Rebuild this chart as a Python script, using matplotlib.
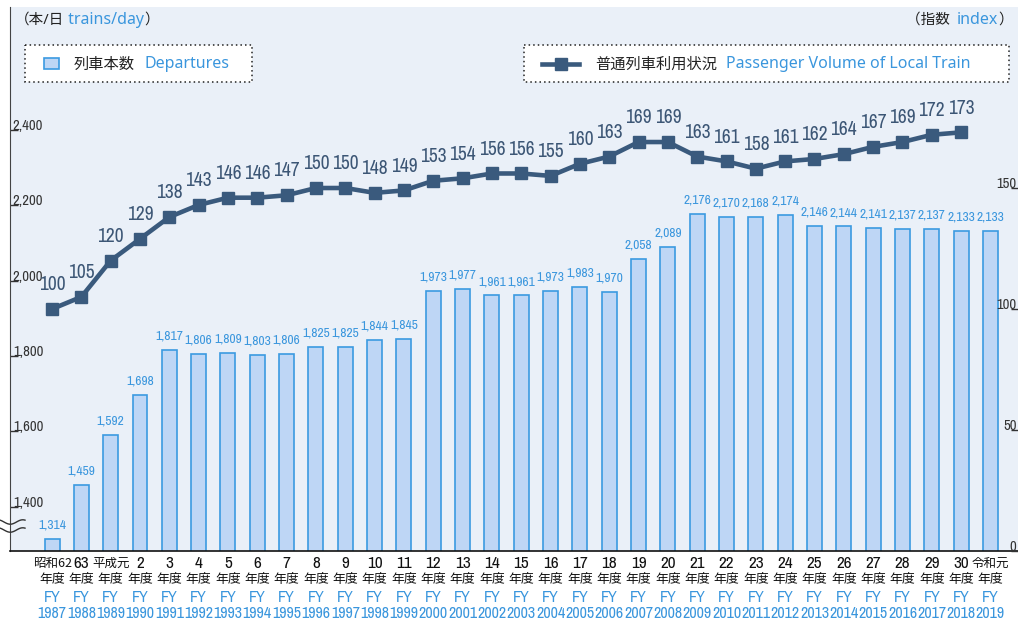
import os
import matplotlib
matplotlib.use('Agg')
import matplotlib.pyplot as plt
import matplotlib.transforms as mtransforms
import matplotlib.font_manager as fm
from matplotlib.font_manager import FontProperties
from matplotlib.textpath import TextPath
from matplotlib.patches import Rectangle
from matplotlib.lines import Line2D
from matplotlib.text import Annotation
import numpy as np

# ---------------- data ----------------
era_labels = ['昭和62', '63', '平成元', '2', '3', '4', '5', '6', '7', '8', '9', '10',
              '11', '12', '13', '14', '15', '16', '17', '18', '19', '20', '21', '22',
              '23', '24', '25', '26', '27', '28', '29', '30', '令和元']
fiscal_years = [1987, 1988, 1989, 1990, 1991, 1992, 1993, 1994, 1995, 1996, 1997,
                1998, 1999, 2000, 2001, 2002, 2003, 2004, 2005, 2006, 2007, 2008,
                2009, 2010, 2011, 2012, 2013, 2014, 2015, 2016, 2017, 2018, 2019]
departures = [1314, 1459, 1592, 1698, 1817, 1806, 1809, 1803, 1806, 1825, 1825,
              1844, 1845, 1973, 1977, 1961, 1961, 1973, 1983, 1970, 2058, 2089,
              2176, 2170, 2168, 2174, 2146, 2144, 2141, 2137, 2137, 2133, 2133]
passenger_index = [100, 105, 120, 129, 138, 143, 146, 146, 147, 150, 150, 148, 149,
                   153, 154, 156, 156, 155, 160, 163, 169, 169, 163, 161, 158, 161,
                   162, 164, 167, 169, 172, 173]
left_ticks = [1400, 1600, 1800, 2000, 2200, 2400]
right_ticks = [0, 50, 100, 150]

# ---------------- fonts ----------------
def find_narrow():
    bad = ('bold', 'italic', 'oblique', 'light', 'medium', 'black', 'thin', 'semi',
           'heavy', 'book', 'extra', 'ultra')
    best = None
    for f in fm.fontManager.ttflist:
        fn = os.path.basename(f.fname).lower()
        if any(b in fn for b in bad):
            continue
        if 'narrow' in fn:
            return FontProperties(fname=f.fname)
        if 'condensed' in fn and best is None:
            best = f.fname
    if best:
        return FontProperties(fname=best)
    return FontProperties(family='Liberation Sans')

NARROW_FP = find_narrow()

def fit(sample, target_px, max_pt):
    w1 = TextPath((0, 0), sample, size=1, prop=NARROW_FP).get_extents().width
    s = target_px / (w1 * 100 / 72)
    return min(s, max_pt)

def nfp(size):
    p = NARROW_FP.copy()
    p.set_size(size)
    return p

SZ_BAR = fit('2,176', 26.5, 11)
SZ_LINE = fit('169', 25, 14)
SZ_TICK = fit('2,400', 29, 12)
SZ_YEAR = fit('1987', 28, 12)

CJK = 'Noto Sans CJK JP'
LATIN = ['Noto Sans', 'Noto Sans CJK JP']

BAR_FILL = '#BED6F5'
BAR_EDGE = '#3B9AE1'
BLUE_TXT = '#3A96DD'
LINE_COL = '#3A5A7D'
LINE_TXT = '#3C5675'
BG = '#EAF0F8'

W, H = 1018, 622
fig = plt.figure(figsize=(W / 100, H / 100), dpi=100, facecolor='white')
PX = mtransforms.Affine2D().scale(1, -1).translate(0, H)  # pixel coords, y down

ax = fig.add_axes([10 / W, (H - 551) / H, (W - 10) / W, (551 - 7) / H])
ax.set_facecolor(BG)
x = np.arange(len(departures))
ax.bar(x, departures, width=0.51, color=BAR_FILL, edgecolor=BAR_EDGE, linewidth=1.2, zorder=2)
ax.set_ylim(1283, 2726)
ax.set_xlim(-1.433, 32.94)
for i, v in enumerate(departures):
    ax.annotate(f'{v:,}', (i, v), xytext=(0, 10), textcoords='offset points',
                ha='center', va='center', color=BLUE_TXT, fontproperties=nfp(SZ_BAR))

ax.set_yticks(left_ticks)
ax.set_yticklabels([f'{t:,}' for t in left_ticks])
ax.tick_params(axis='y', direction='in', length=6, width=1, color='#333333', pad=-2,
               labelcolor='#333333')
for lab in ax.get_yticklabels():
    lab.set_ha('left'); lab.set_va('baseline')
    lab.set_fontproperties(nfp(SZ_TICK))
ax.set_xticks([])
for s in ['top', 'right']:
    ax.spines[s].set_visible(False)
ax.spines['left'].set_color('#444444')
ax.spines['bottom'].set_color('#111111')
ax.spines['bottom'].set_linewidth(1.2)

ax2 = ax.twinx()
ax2.set_ylim(0, 224.8)
ax2.plot(x[:len(passenger_index)], passenger_index, color=LINE_COL, lw=3.3,
         marker='s', ms=9.3, zorder=3)
for i, v in enumerate(passenger_index):
    ax2.annotate(str(v), (i, v), xytext=(0, 17.5), textcoords='offset points',
                 ha='center', va='center', color=LINE_TXT, fontproperties=nfp(SZ_LINE))
ax2.set_yticks(right_ticks)
ax2.tick_params(axis='y', direction='in', length=5, width=1, color='#333333', pad=-1,
                labelcolor='#333333')
for lab in ax2.get_yticklabels():
    lab.set_ha('right'); lab.set_va('baseline')
    lab.set_fontproperties(nfp(SZ_TICK))
for s in ['top', 'right', 'left', 'bottom']:
    ax2.spines[s].set_visible(False)

# ---------------- x labels ----------------
blend = mtransforms.blended_transform_factory(ax.transData, fig.transFigure)
for i, (e, y) in enumerate(zip(era_labels, fiscal_years)):
    if e.isdigit():
        ax.text(i, 1 - 563 / H, e, transform=blend, ha='center', va='center',
                color='#111111', clip_on=False, fontproperties=nfp(SZ_YEAR + 0.8))
    else:
        ax.text(i, 1 - 563 / H, e, transform=blend, ha='center', va='center',
                fontsize=9, color='#111111', family=CJK, clip_on=False)
    ax.text(i, 1 - 580 / H, '年度', transform=blend, ha='center', va='center',
            fontsize=9.3, color='#111111', family=CJK, clip_on=False)
    ax.text(i, 1 - 597 / H, 'FY', transform=blend, ha='center', va='center',
            color=BLUE_TXT, clip_on=False, fontproperties=nfp(SZ_YEAR))
    ax.text(i, 1 - 613 / H, str(y), transform=blend, ha='center', va='center',
            color=BLUE_TXT, clip_on=False, fontproperties=nfp(SZ_YEAR))

# ---------------- unit labels ----------------
t1 = fig.text(15, 20, '（本/日', transform=PX, ha='left', va='center', fontsize=10.5,
              family=LATIN, color='#222222')
a2 = fig.add_artist(Annotation(' trains/day', xy=(1, 0.5), xycoords=t1,
                               ha='left', va='center', fontsize=11.5,
                               family=LATIN, color=BLUE_TXT))
fig.add_artist(Annotation('）', xy=(1, 0.5), xycoords=a2, ha='left', va='center',
                          fontsize=10.5, family=LATIN, color='#222222'))

r1 = fig.text(1013, 20, '）', transform=PX, ha='right', va='center', fontsize=10.5,
              family=LATIN, color='#222222')
r2 = fig.add_artist(Annotation('index', xy=(0, 0.5), xycoords=r1, ha='right',
                               va='center', fontsize=11.5, family=LATIN, color=BLUE_TXT))
fig.add_artist(Annotation('（指数  ', xy=(0, 0.5), xycoords=r2, ha='right', va='center',
                          fontsize=10.5, family=LATIN, color='#222222'))

# ---------------- legends ----------------
def dotted_box(x0, y0, x1, y1):
    fig.add_artist(Rectangle((x0, y0), x1 - x0, y1 - y0, transform=PX, facecolor='white',
                             edgecolor='#222222', linestyle=(0, (1, 2)), linewidth=1.1))

dotted_box(25, 45, 252, 82)
fig.add_artist(Rectangle((44, 58), 15, 11, transform=PX, facecolor=BAR_FILL,
                         edgecolor=BAR_EDGE, linewidth=1.2))
fig.text(74, 64, '列車本数', transform=PX, ha='left', va='center', fontsize=11,
         family=CJK, color='#222222')
fig.text(145, 64, 'Departures', transform=PX, ha='left', va='center', fontsize=11.5,
         family=LATIN, color=BLUE_TXT)

dotted_box(524, 45, 1009, 82)
fig.add_artist(Line2D([542, 579], [63.5, 63.5], transform=PX, color=LINE_COL, lw=3.3))
fig.add_artist(Line2D([560.5], [63.5], transform=PX, color=LINE_COL, marker='s', ms=9.3,
                      lw=0))
fig.text(595, 64, '普通列車利用状況', transform=PX, ha='left', va='center', fontsize=11,
         family=CJK, color='#222222')
fig.text(726, 64, 'Passenger Volume of Local Train', transform=PX, ha='left',
         va='center', fontsize=11.5, family=LATIN, color=BLUE_TXT)

# ---------------- axis break mark ----------------
xs = np.linspace(0, 25, 60)
for y0 in (522, 530):
    wave = y0 + 2.2 * np.sin((xs - 4) / 25 * 2 * np.pi)
    fig.add_artist(Line2D(xs, wave, transform=PX, color='#333333', lw=1.0))

fig.savefig('out.png', dpi=100, facecolor='white')
